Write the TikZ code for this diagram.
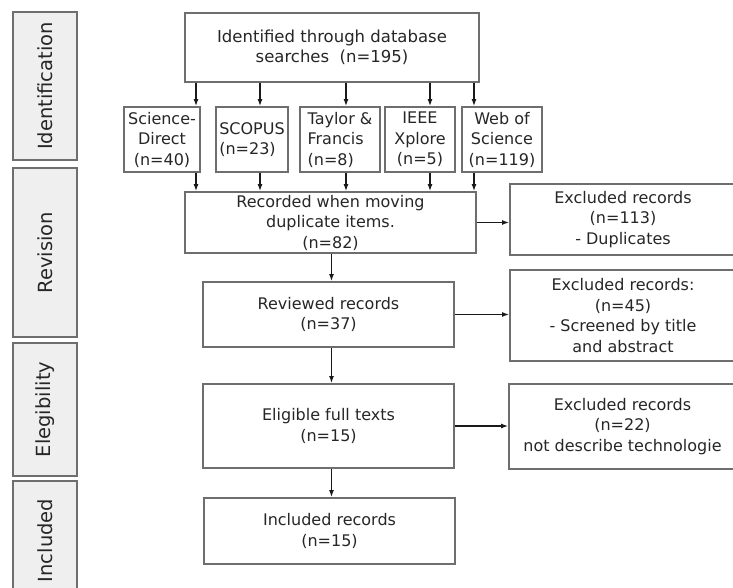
\documentclass[tikz,border=0pt]{standalone}
\usepackage{fontspec}
\setmainfont{DejaVu Sans}
\usetikzlibrary{arrows.meta}
\definecolor{boxGray}{HTML}{6E6E6E}
\definecolor{phaseFill}{HTML}{EFEFEF}
\definecolor{textGray}{HTML}{262626}

\begin{document}
\begin{tikzpicture}[
        x=1pt, y=-1pt,
        phaseNode/.style={
            rectangle,
            draw=boxGray,
            fill=phaseFill,
            line width=1.8pt,
            rotate=90,
            minimum height=64pt,
            inner sep=0pt,
            text=textGray,
            font=\fontsize{19.5}{23}\selectfont
        },
        stepNode/.style={
            rectangle,
            draw=boxGray,
            line width=1.8pt,
            align=center,
            inner sep=1pt,
            text=textGray,
            font=\fontsize{16}{20.5}\selectfont
        },
        sourceNode/.style={
            stepNode,
            minimum height=65pt
        },
        flowLine/.style={
            line width=1.4pt,
            draw=black!90,
            -{Latex[length=7pt,width=5pt]}
        }
    ]
        \useasboundingbox (0,0) rectangle (733,587);
        \clip (0,0) rectangle (733,587);

        % phases on the left
        \node[phaseNode, minimum width=148pt] (idPhase)   at (45,86)    {Identification};
        \node[phaseNode, minimum width=169pt] (revPhase)  at (45,252.5) {Revision};
        \node[phaseNode, minimum width=133pt] (eligPhase) at (45,409.5) {Elegibility};
        \node[phaseNode, minimum width=119pt] (inclPhase) at (45,540.5) {Included};

        % identification
        \node[stepNode, minimum width=294pt, minimum height=69pt, font=\fontsize{16.5}{20}\selectfont]
            (ident) at (332,47.5) {Identified through database\\searches\ \ (n=195)};

        \node[sourceNode, minimum width=76pt]             (sd)     at (162,139.5) {Science-\\Direct\\(n=40)};
        \node[sourceNode, minimum width=72pt, align=left] (scopus) at (252,139.5) {SCOPUS\\(n=23)};
        \node[sourceNode, minimum width=80pt, align=left] (tf)     at (340,139.5) {Taylor \&\\Francis\\(n=8)};
        \node[sourceNode, minimum width=70pt]             (ieee)   at (420,139.5) {IEEE\\Xplore\\(n=5)};
        \node[sourceNode, minimum width=80pt]             (wos)    at (502,139.5) {Web of\\Science\\(n=119)};

        \coordinate (col1) at (196,0);
        \coordinate (col2) at (260,0);
        \coordinate (col3) at (346,0);
        \coordinate (col4) at (430,0);
        \coordinate (col5) at (474,0);
        \coordinate (mid)  at (331.5,0);

        % revision
        \node[stepNode, minimum width=291pt, minimum height=61pt] (rec)  at (330.5,222.5) {Recorded when moving\\duplicate items.\\(n=82)};
        \node[stepNode, minimum width=226pt, minimum height=71pt] (exc1) at (623,219.5)   {Excluded records\\(n=113)\\- Duplicates};
        \node[stepNode, minimum width=251pt, minimum height=65pt] (rev)  at (328.5,314.5) {Reviewed records\\(n=37)};
        \node[stepNode, minimum width=226pt, minimum height=91pt] (exc2) at (623,315.5)   {Excluded records:\\(n=45)\\- Screened by title\\and abstract};

        % eligibility and inclusion
        \node[stepNode, minimum width=251pt, minimum height=84pt] (elig) at (328.5,426)   {Eligible full texts\\(n=15)};
        \node[stepNode, minimum width=227pt, minimum height=85pt] (exc3) at (622.5,426.5) {Excluded records\\(n=22)\\not describe technologie};
        \node[stepNode, minimum width=251pt, minimum height=66pt] (incl) at (329.5,531)   {Included records\\(n=15)};

        \draw[flowLine] (ident.south -| col1) -- (sd.north -| col1);
        \draw[flowLine] (ident.south -| col2) -- (scopus.north -| col2);
        \draw[flowLine] (ident.south -| col3) -- (tf.north -| col3);
        \draw[flowLine] (ident.south -| col4) -- (ieee.north -| col4);
        \draw[flowLine] (ident.south -| col5) -- (wos.north -| col5);

        \draw[flowLine] (sd.south -| col1)     -- (rec.north -| col1);
        \draw[flowLine] (scopus.south -| col2) -- (rec.north -| col2);
        \draw[flowLine] (tf.south -| col3)     -- (rec.north -| col3);
        \draw[flowLine] (ieee.south -| col4)   -- (rec.north -| col4);
        \draw[flowLine] (wos.south -| col5)    -- (rec.north -| col5);

        \draw[flowLine] (rec.south -| mid)  -- (rev.north -| mid);
        \draw[flowLine] (rev.south -| mid)  -- (elig.north -| mid);
        \draw[flowLine] (elig.south -| mid) -- (incl.north -| mid);

        \draw[flowLine] (rec.east)  -- (rec.east -| exc1.west);
        \draw[flowLine] (rev.east)  -- (rev.east -| exc2.west);
        \draw[flowLine] (elig.east) -- (elig.east -| exc3.west);

    \end{tikzpicture}
\end{document}
